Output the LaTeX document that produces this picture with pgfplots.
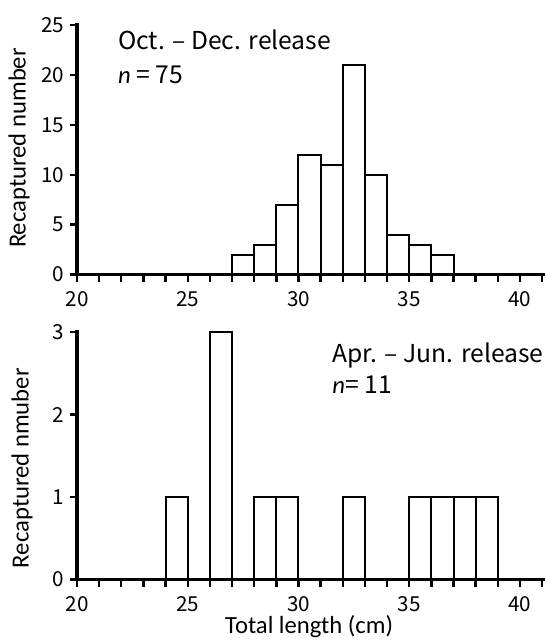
\documentclass[border=0pt]{standalone}
\usepackage{pgfplots}
\pgfplotsset{compat=1.18}
\usepackage{fontspec}
\setmainfont{Carlito}
\newfontfamily\jpfont{Noto Sans CJK JP}
\tikzset{ann/.style={anchor=base west, inner sep=0pt, font=\jpfont\fontsize{18.5}{20}\selectfont}}

\begin{document}
\begin{tikzpicture}
\useasboundingbox (0pt,0pt) rectangle (408.75pt,480pt);
\pgfplotsset{
  hist/.style={
    scale only axis, width=351pt, xmin=20, xmax=41.13, ymin=0,
    axis x line=bottom, axis y line=left,
    axis line style={-, line width=2.4pt, line cap=rect},
    axis on top,
    xtick={20,25,...,40}, minor xtick={21,...,41},
    tick align=outside, major tick length=5.2pt, minor tick length=5.2pt,
    tick style={black, line width=1.8pt},
    minor tick style={black, line width=1.8pt},
    tick label style={font=\jpfont\fontsize{15.5}{16}\selectfont},
    xticklabel style={yshift=-4pt},
    yticklabel style={xshift=-1pt},
    /pgf/number format/assume math mode=true,
    label style={font=\fontsize{18.5}{20}\selectfont},
    anchor=south west,
    clip=false,
  },
  bars/.style={ybar interval, draw=black, fill=white, line width=1.5pt},
}
\begin{axis}[hist, at={(57.75pt,274.05pt)}, height=187.2pt, ymax=25,
  ytick={0,5,...,25},
  ylabel={Recaptured number},
  ylabel style={at={(axis description cs:-0.124,0.507)}, anchor=center}]
\addplot[bars] coordinates {(27,2) (28,3) (29,7) (30,12) (31,11) (32,21) (33,10) (34,4) (35,3) (36,2) (37,0)};
\node[ann] at (axis cs:21.85,22.56) {Oct. – Dec. release};
\node[ann] at (axis cs:21.85,19.16) {{\rmfamily\itshape n} = 75};
\end{axis}
\begin{axis}[hist, at={(57.75pt,45.3pt)}, height=185.7pt, ymax=3,
  ytick={0,1,2,3},
  ylabel={Recaptured nmuber},
  ylabel style={at={(axis description cs:-0.1175,0.45)}, anchor=center}]
\addplot[bars] coordinates {(24,1) (25,0) (26,3) (27,0) (28,1) (29,1) (30,0) (31,0) (32,1) (33,0) (34,0) (35,1) (36,1) (37,1) (38,1) (39,0)};
\node[ann] at (axis cs:31.52,2.627) {Apr. – Jun. release};
\node[ann] at (axis cs:31.52,2.249) {{\rmfamily\itshape n}= 11};
\node[anchor=base, inner sep=0pt, font=\fontsize{18.5}{20}\selectfont] at (axis description cs:0.496,-0.2197) {Total length (cm)};
\end{axis}
\end{tikzpicture}
\end{document}
